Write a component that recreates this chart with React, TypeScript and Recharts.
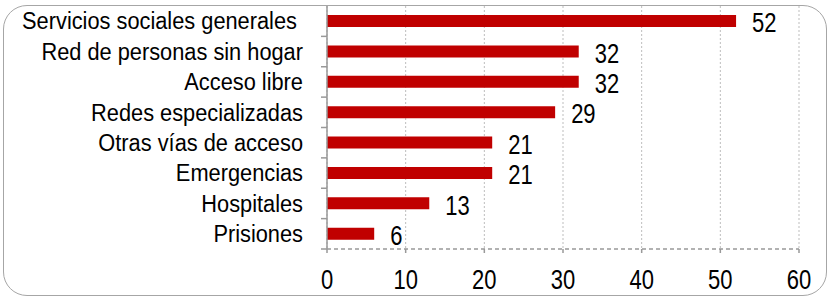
import React from "react";
import { BarChart, Bar, XAxis, YAxis, CartesianGrid, LabelList } from "recharts";

const categories = [
  "Servicios sociales generales ",
  "Red de personas sin hogar",
  "Acceso libre",
  "Redes especializadas",
  "Otras vías de acceso",
  "Emergencias",
  "Hospitales",
  "Prisiones",
];
const values = [52, 32, 32, 29, 21, 21, 13, 6];
const xTicks = [0, 10, 20, 30, 40, 50, 60];

const data = categories.map((name, i) => ({ name, value: values[i] }));

const W = 828;
const H = 297;
const MARGIN_TOP = 6;
const XAXIS_H = 48;
const BAND_HALF = (H - MARGIN_TOP - XAXIS_H) / categories.length / 2;
const FONT = "Arial, 'Liberation Sans', sans-serif";

const YTick = (props: any) => {
  const { x, y, payload } = props;
  return (
    <g>
      <text
        transform={`translate(${x},${y}) scale(1,1.08)`}
        x={0}
        y={0}
        textAnchor="end"
        dominantBaseline="central"
        fontSize={21.8}
        fontFamily={FONT}
        fill="#000"
        style={{ whiteSpace: "pre" }}
      >
        {payload.value}
      </text>
      <line x1={x + 18} x2={x + 24} y1={y + BAND_HALF} y2={y + BAND_HALF} stroke="#999" strokeWidth={1.5} />
    </g>
  );
};

const XTick = (props: any) => {
  const { x, y, payload } = props;
  return (
    <text
      transform={`translate(${x},${y}) scale(1,1.22)`}
      x={0}
      y={0}
      textAnchor="middle"
      dominantBaseline="central"
      fontSize={22}
      fontFamily={FONT}
      fill="#000"
    >
      {payload.value}
    </text>
  );
};

const ValueLabel = (props: any) => {
  const { x, y, width, height, value } = props;
  const tx = x + width + 16;
  const ty = y + height / 2 + 2;
  return (
    <text
      transform={`translate(${tx},${ty}) scale(1,1.22)`}
      x={0}
      y={0}
      textAnchor="start"
      dominantBaseline="central"
      fontSize={22}
      fontFamily={FONT}
      fill="#000"
    >
      {value}
    </text>
  );
};

export default function App() {
  return (
    <div style={{ position: "fixed", left: 0, top: 0, width: W, height: H, background: "#fff" }}>
      <div
        style={{
          position: "absolute",
          left: 3,
          top: 5,
          width: 822,
          height: 289,
          border: "1.5px solid #A6A6A6",
          borderRadius: 24,
        }}
      />
      <BarChart
        width={W}
        height={H}
        data={data}
        layout="vertical"
        margin={{ top: MARGIN_TOP, right: 29, left: 0, bottom: 0 }}
        barCategoryGap={0}
        style={{ position: "absolute", left: 0, top: 0 }}
      >
        <CartesianGrid horizontal={false} vertical={true} stroke="#BDBDBD" strokeDasharray="2 2" />
        <XAxis
          type="number"
          domain={[0, 60]}
          ticks={xTicks}
          height={XAXIS_H}
          axisLine={{ stroke: "#999", strokeDasharray: "4 3", strokeWidth: 1.5 }}
          tickLine={{ stroke: "#999", strokeWidth: 1.5 }}
          tickSize={4}
          tickMargin={27}
          tick={<XTick />}
        />
        <YAxis
          type="category"
          dataKey="name"
          width={327}
          axisLine={{ stroke: "#999", strokeWidth: 1.5 }}
          tickLine={false}
          tickSize={0}
          tickMargin={24}
          tick={<YTick />}
          interval={0}
        />
        <Bar dataKey="value" fill="#C00000" barSize={12} isAnimationActive={false}>
          <LabelList dataKey="value" content={<ValueLabel />} />
        </Bar>
      </BarChart>
    </div>
  );
}
